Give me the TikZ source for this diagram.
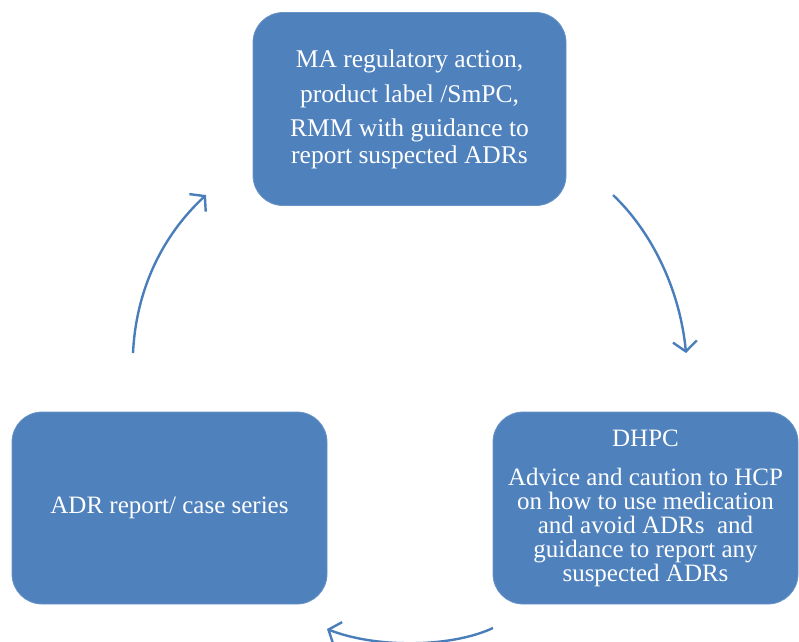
\documentclass[tikz,border=0pt]{standalone}
\usepackage{fontspec}
\setmainfont{Liberation Serif}
\usetikzlibrary{arrows.meta}
\definecolor{boxblue}{HTML}{4F81BD}
\definecolor{arrowblue}{HTML}{4A7EBB}
\tikzset{
  cyclebox/.style={fill=boxblue, draw=boxblue!85!white, line width=0.8pt, rounded corners=30pt,
    text=white, align=center, inner sep=0pt, font=\fontsize{25}{26}\selectfont},
  cyclearrow/.style={draw=arrowblue, line width=2.4pt, -{Straight Barb[length=10pt,width=24pt,line width=2.4pt]}}
}
\begin{document}
\begin{tikzpicture}[x=1pt,y=-1pt]
\useasboundingbox (0,0) rectangle (799,641);
\node[cyclebox, minimum width=313pt, minimum height=193pt, font=\fontsize{25.5}{27}\selectfont] (ma) at (409.5,109)
  {MA regulatory action,\\[8pt]product label /SmPC,\\[7pt]RMM with guidance to\\report suspected ADRs};
\node[cyclebox, minimum width=305pt, minimum height=192pt] (dhpc) at (645.5,508)
  {DHPC\\[13pt]Advice and caution to HCP\\[-2pt]on how to use medication\\[-2pt]and avoid ADRs\ \ and\\[-2pt]guidance to report any\\[-2pt]suspected ADRs};
\node[cyclebox, minimum width=315pt, minimum height=192pt] (adr) at (169.5,508)
  {ADR report/ case series};
\coordinate (a1s) at (133,353);
\coordinate (a1e) at (206,195);
\coordinate (a2s) at (613,195);
\coordinate (a2e) at (686,353);
\coordinate (a3s) at (493,628);
\coordinate (a3e) at (327,629);
\draw[cyclearrow] (a1s) .. controls (136,290) and (162,236) .. (a1e);
\draw[cyclearrow] (a2s) .. controls (652,232) and (680,290) .. (a2e);
\draw[cyclearrow] (a3s) .. controls (450,648) and (375,648) .. (a3e);
\end{tikzpicture}
\end{document}
